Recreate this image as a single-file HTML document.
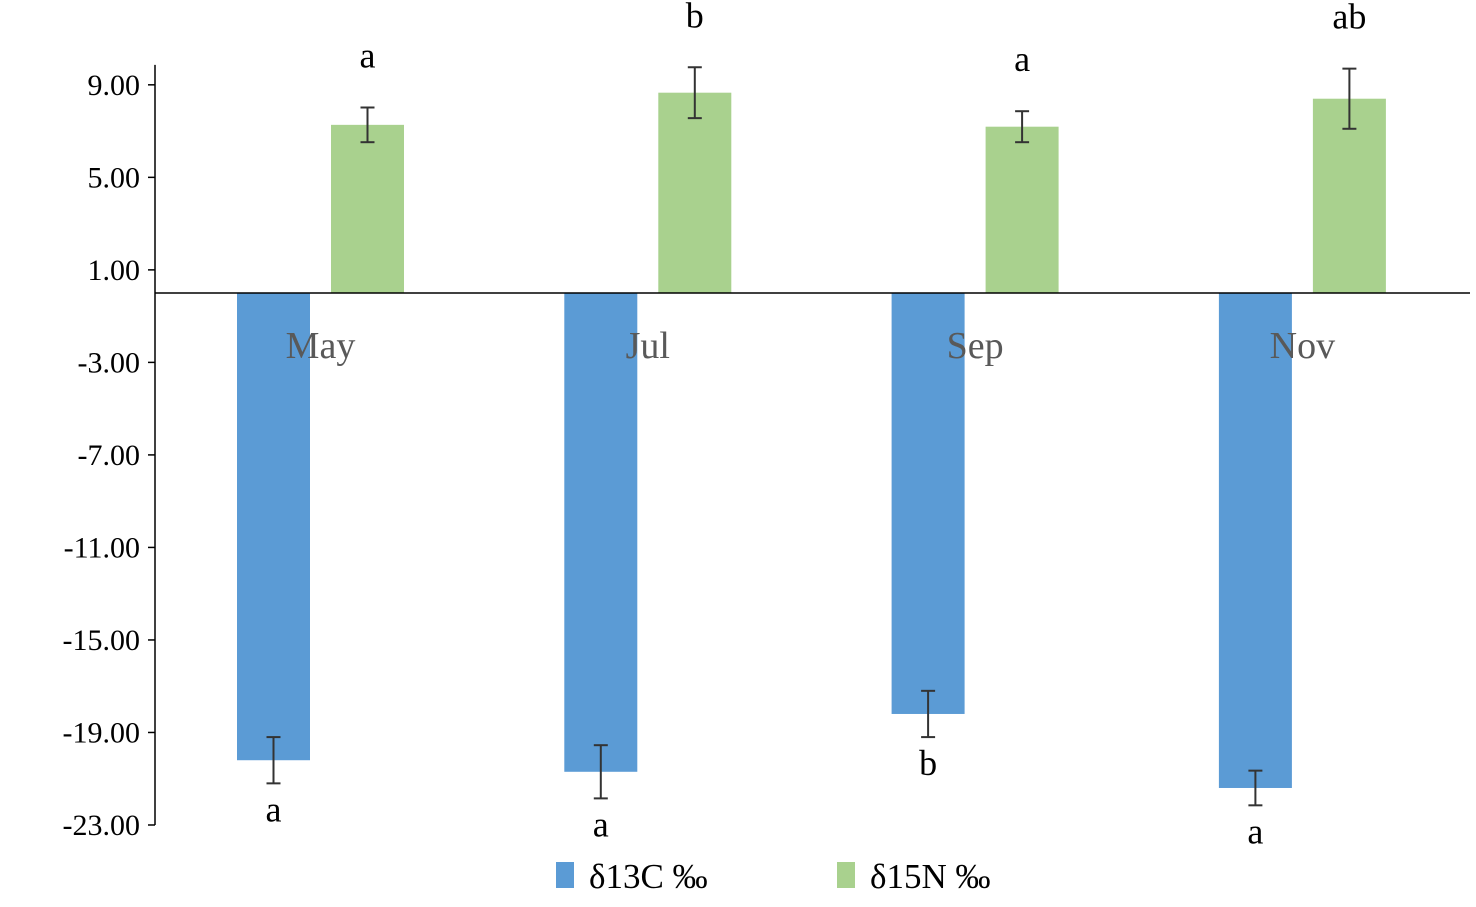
<!DOCTYPE html>
<html><head><meta charset="utf-8"><style>
html,body{margin:0;padding:0;background:#fff;}
svg{display:block;font-family:"Liberation Serif",serif;}
</style></head><body>
<svg id="chart" width="1476" height="907"></svg>
<script>
const categories=["May","Jul","Sep","Nov"];
const c13Values=[-20.2,-20.7,-18.2,-21.4];
const c13Errors=[1.0,1.15,1.0,0.75];
const c13Letters=["a","a","b","a"];
const n15Values=[7.27,8.66,7.19,8.4];
const n15Errors=[0.75,1.1,0.67,1.3];
const n15Letters=["a","b","a","ab"];
const yTicks=[9,5,1,-3,-7,-11,-15,-19,-23];
const seriesNames=["δ13C ‰","δ15N ‰"];

const NS="http://www.w3.org/2000/svg";
const svg=document.getElementById('chart');
function mk(t,a){const e=document.createElementNS(NS,t);for(const k in a)e.setAttribute(k,a[k]);svg.appendChild(e);return e;}
const zeroY=293, pxPerUnit=23.13;
function y(v){return zeroY-v*pxPerUnit;}
const groupStep=327.3, x0=237;
function gx(i){return x0+i*groupStep;}
const bw=73, gap=21;

let ax=mk('line',{x1:155,y1:y(9)-20,x2:155,y2:y(-23),stroke:'#000','stroke-width':1.5});

yTicks.forEach(t=>{
  const tl=mk('line',{x1:148,y1:y(t),x2:155,y2:y(t),stroke:'#000','stroke-width':1.5});
  
  const tx=mk('text',{x:140,y:y(t)+10,'text-anchor':'end','font-size':30,fill:'#000'});
  tx.textContent=t.toFixed(2);
  
});

function errBar(cx,top,bot){
  const g=[mk('line',{x1:cx,y1:top,x2:cx,y2:bot,stroke:'#333','stroke-width':2}),
  mk('line',{x1:cx-7,y1:top,x2:cx+7,y2:top,stroke:'#333','stroke-width':2}),
  mk('line',{x1:cx-7,y1:bot,x2:cx+7,y2:bot,stroke:'#333','stroke-width':2})];
  g.forEach(e=>{});
}

categories.forEach((c,i)=>{
  const bx=gx(i), nx=bx+bw+gap;
  const b=mk('rect',{x:bx,y:zeroY,width:bw,height:y(c13Values[i])-zeroY,fill:'#5b9bd5'});
  
  const n=mk('rect',{x:nx,y:y(n15Values[i]),width:bw,height:zeroY-y(n15Values[i]),fill:'#a9d18e'});
  
  errBar(bx+bw/2,y(c13Values[i]+c13Errors[i]),y(c13Values[i]-c13Errors[i]));
  errBar(nx+bw/2,y(n15Values[i]+n15Errors[i]),y(n15Values[i]-n15Errors[i]));
  const l1=mk('text',{x:bx+bw/2,y:y(c13Values[i]-c13Errors[i])+38,'text-anchor':'middle','font-size':36,fill:'#000'});
  l1.textContent=c13Letters[i];
  const l2=mk('text',{x:nx+bw/2,y:y(n15Values[i]+n15Errors[i])-40,'text-anchor':'middle','font-size':36,fill:'#000'});
  l2.textContent=n15Letters[i];
  const cl=mk('text',{x:bx+bw+gap/2,y:358,'text-anchor':'middle','font-size':38,fill:'#595959'});
  cl.textContent=c;
});

const zl=mk('line',{x1:155,y1:zeroY,x2:1470,y2:zeroY,stroke:'#000','stroke-width':1.5});


const legX=[556,837];
const legCol=['#5b9bd5','#a9d18e'];
seriesNames.forEach((s,i)=>{
  const r=mk('rect',{x:legX[i],y:862,width:18,height:26,fill:legCol[i]});
  
  const t=mk('text',{x:legX[i]+33,y:888,'font-size':35,fill:'#000'});
  t.textContent=s;
});
</script>
</body></html>
